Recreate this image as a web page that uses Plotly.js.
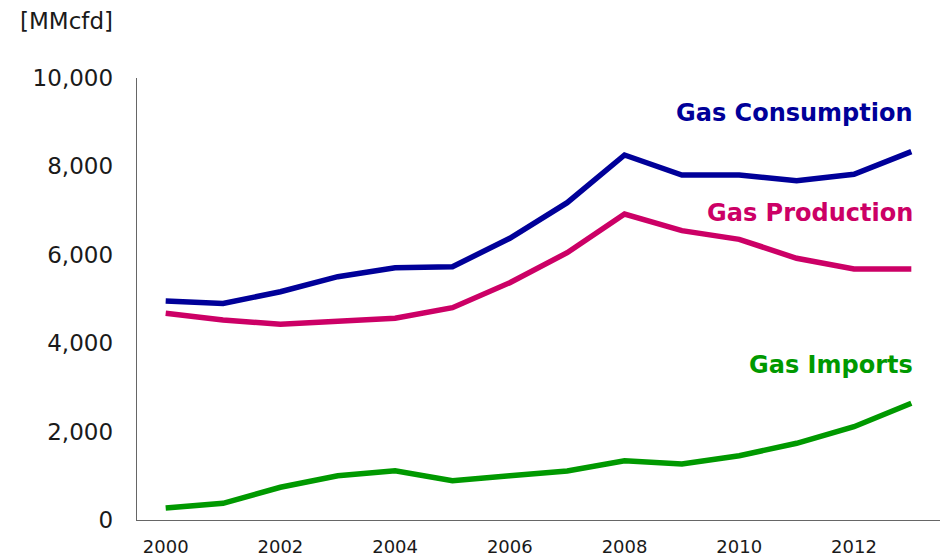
<!DOCTYPE html>
<html>
<head>
<meta charset="utf-8">
<script src="https://cdn.plot.ly/plotly-3.0.1.min.js"></script>
<style>html,body{margin:0;padding:0;background:#fff;}#chart{width:948px;height:556px;}</style>
</head>
<body>
<div id="chart"></div>
<script>
const years = [2000,2001,2002,2003,2004,2005,2006,2007,2008,2009,2010,2011,2012,2013];
const consumption = [4955,4900,5165,5505,5708,5731,6373,7179,8258,7805,7805,7677,7821,8333];
const production  = [4676,4525,4427,4487,4563,4803,5369,6048,6923,6546,6350,5921,5679,5679];
const imports     = [270,378,740,1000,1115,890,1000,1110,1340,1265,1455,1735,2110,2640];
const xTicks = [2000,2002,2004,2006,2008,2010,2012];
const yTicks = [0,2000,4000,6000,8000,10000];
const yTickText = ['0','2,000','4,000','6,000','8,000','10,000'];
const seriesNames = ['Gas Consumption','Gas Production','Gas Imports'];
const colors = ['#000099','#CC0066','#009900'];
const labelY = [9200,6950,3510];

const series = [consumption, production, imports];
const traces = series.map((s,i)=>({
  x: years, y: s, type:'scatter', mode:'lines', name: seriesNames[i],
  line:{color: colors[i], width:5.5}, hoverinfo:'skip'
}));

const annotations = seriesNames.map((n,i)=>({
  x: 2013, y: labelY[i], xref:'x', yref:'y', text: n, showarrow:false,
  xanchor:'right', yanchor:'middle', xshift: 4,
  font:{family:'DejaVu Sans, Verdana, sans-serif', size:24, color: colors[i], weight:'bold'}
}));
const W=948,H=556,ml=137,mr=8,mt=78,mb=36;
annotations.push({
  x: (115-ml)/(W-ml-mr), y: (H-mb-21)/(H-mt-mb), xref:'paper', yref:'paper', text:'[MMcfd]', showarrow:false,
  xanchor:'right', yanchor:'middle',
  font:{family:'DejaVu Sans, Verdana, sans-serif', size:23, color:'#1a1a1a'}
});

const layout = {
  width:W, height:H,
  margin:{l:ml, r:mr, t:mt, b:mb, pad:0},
  paper_bgcolor:'#fff', plot_bgcolor:'#fff',
  showlegend:false,
  xaxis:{
    range:[1999.5,2013.5], tickvals:xTicks, ticktext:xTicks.map(String),
    showgrid:false, zeroline:false, showline:true, linecolor:'#666', linewidth:1.3,
    ticks:'outside', ticklen:10, tickcolor:'rgba(0,0,0,0)',
    tickfont:{family:'DejaVu Sans, Verdana, sans-serif', size:18, color:'#1a1a1a'},
    fixedrange:true
  },
  yaxis:{
    range:[0,10000], tickvals:yTicks, ticktext:yTickText,
    showgrid:false, zeroline:false, showline:true, linecolor:'#666', linewidth:1.3,
    ticks:'outside', ticklen:18, tickcolor:'rgba(0,0,0,0)',
    tickfont:{family:'DejaVu Sans, Verdana, sans-serif', size:23, color:'#1a1a1a'},
    fixedrange:true
  },
  annotations: annotations
};
Plotly.newPlot('chart', traces, layout, {displayModeBar:false, staticPlot:true});
</script>
</body>
</html>
